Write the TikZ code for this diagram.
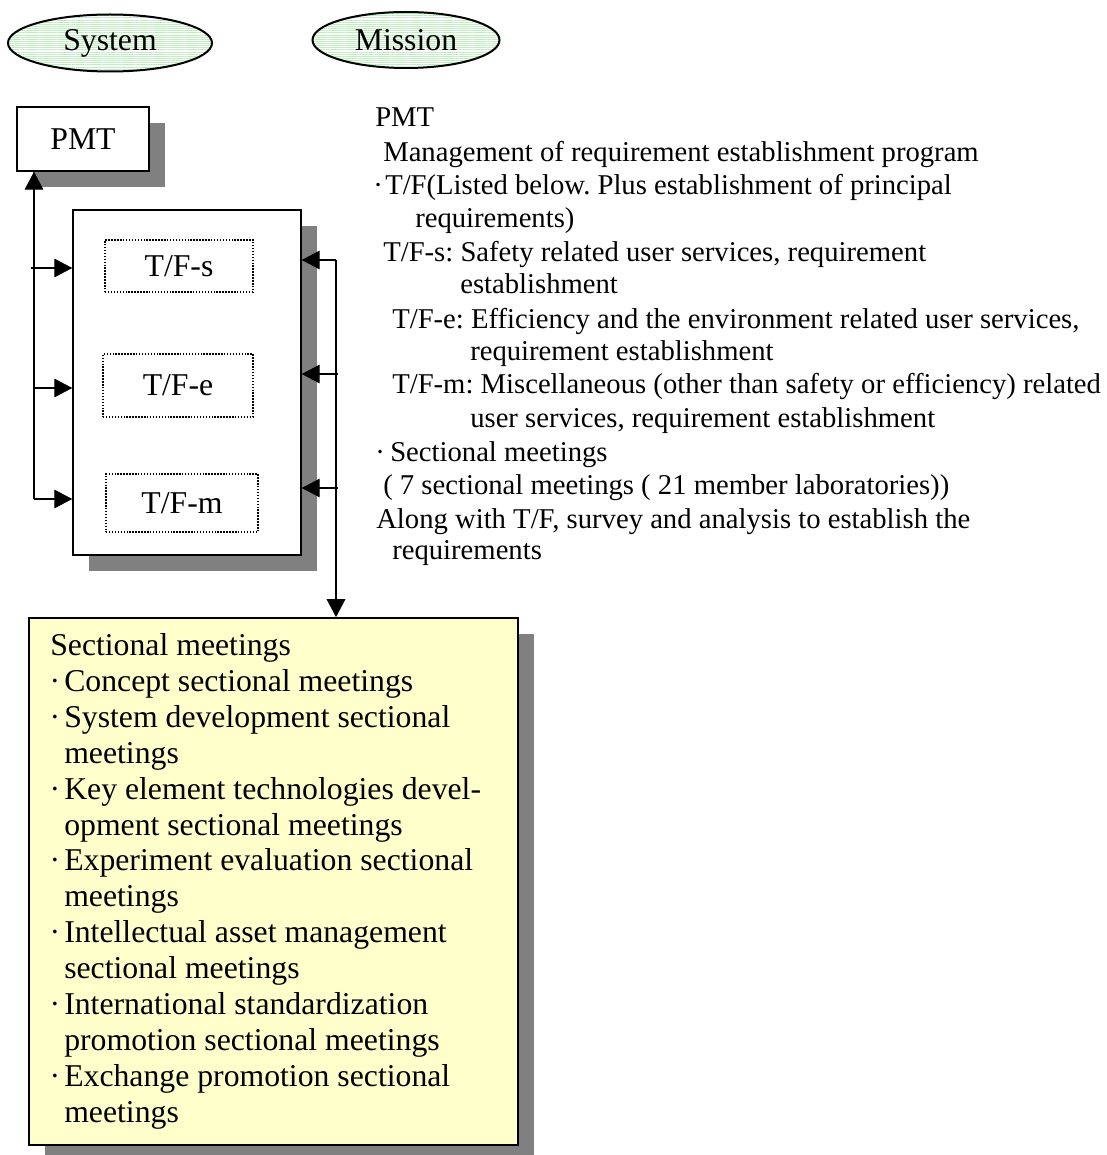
\documentclass[tikz,border=0pt]{standalone}
\usepackage{fontspec}
\setmainfont{Liberation Serif}
\usetikzlibrary{arrows.meta,shadows,shapes.geometric,patterns.meta}

\definecolor{shadowgray}{RGB}{128,128,128}
\definecolor{notepaper}{RGB}{255,255,204}
\definecolor{ovalgreen}{RGB}{188,238,188}

% bullet for the list lines
\newcommand\ybul{\makebox[10.5pt][l]{\hspace{-0.5pt}·}}

\begin{document}
\frenchspacing
\begin{tikzpicture}[x=0.75pt,y=-0.75pt,
  bigfont/.style={font=\fontsize{23.8pt}{26.9pt}\selectfont},
  notefont/.style={font=\fontsize{21.5pt}{24.75pt}\selectfont},
  oval/.style={ellipse, draw, line width=1.5pt, inner sep=0pt, bigfont,
    pattern={Lines[angle=0,distance=1.6pt,line width=0.7pt]}, pattern color=ovalgreen},
  shadowed/.style={drop shadow={shadow xshift=12pt, shadow yshift=-12pt,
    fill=shadowgray, opacity=1}},
  solidbox/.style={rectangle, draw, line width=1.1pt, fill=white, inner sep=0pt, bigfont},
  dotbox/.style={rectangle, draw, line width=1.1pt, dash pattern=on 1.1pt off 1.1pt,
    fill=white, inner sep=0pt, bigfont},
  note/.style={anchor=base west, inner sep=0pt, notefont},
  item/.style={anchor=base west, inner sep=0pt, bigfont},
  arr/.style={line width=0.8pt, -{Triangle[length=13.5pt,width=14pt]}}
]
\useasboundingbox (0,0) rectangle (1106,1155);
\clip (0,0) rectangle (1106,1155);

% header ovals
\node[oval, minimum width=153pt, minimum height=42.75pt] (sys) at (110,43) {System};
\node[oval, minimum width=140.25pt, minimum height=42pt] (mis) at (406,40) {Mission};

% organisation boxes
\node[solidbox, shadowed, minimum width=99pt, minimum height=48pt] (pmt) at (83,139) {PMT};
\node[solidbox, shadowed, minimum width=171pt, minimum height=258.75pt] (tf) at (187,382.5) {};
\node[dotbox, minimum width=111pt, minimum height=39pt] (tfs) at (179,266) {T/F-s};
\node[dotbox, minimum width=112.5pt, minimum height=47.25pt] (tfe) at (178,385.5) {T/F-e};
\node[dotbox, minimum width=114pt, minimum height=43.5pt] (tfm) at (182,503) {T/F-m};

% sectional meetings box
\node[rectangle, draw, line width=1.3pt, fill=notepaper, shadowed,
  minimum width=366.75pt, minimum height=395.25pt] (sec) at (273.5,881.5) {};

\node[item] (s1) at (50,655) {Sectional meetings};
\node[item] (s2) at (50,691) {\ybul Concept sectional meetings};
\node[item] (s3) at (50,727) {\ybul System development sectional};
\node[item] (s4) at (64,763) {meetings};
\node[item] (s5) at (50,799) {\ybul Key element technologies devel-};
\node[item] (s6) at (64,835) {opment sectional meetings};
\node[item] (s7) at (50,870) {\ybul Experiment evaluation sectional};
\node[item] (s8) at (64,906) {meetings};
\node[item] (s9) at (50,942) {\ybul Intellectual asset management};
\node[item] (s10) at (64,978) {sectional meetings};
\node[item] (s11) at (50,1014) {\ybul International standardization};
\node[item] (s12) at (64,1050) {promotion sectional meetings};
\node[item] (s13) at (50,1086) {\ybul Exchange promotion sectional};
\node[item] (s14) at (64,1122) {meetings};

% left feedback bus
\coordinate (lb) at (34,499);
\coordinate (l1) at (31,268);
\coordinate (l2) at (34,388);
\draw[arr] (lb) -- (lb |- pmt.south);
\draw[arr] (l1) -- (l1 -| tf.west);
\draw[arr] (l2) -- (l2 -| tf.west);
\draw[arr] (lb) -- (lb -| tf.west);

% right bus to the sectional meetings
\coordinate (r1) at (336,260);
\coordinate (r2) at (338,374);
\coordinate (r3) at (338,488);
\draw[arr] (r1) -- (r1 -| tf.east);
\draw[arr] (r2) -- (r2 -| tf.east);
\draw[arr] (r3) -- (r3 -| tf.east);
\draw[arr] (r1) -- (r1 |- sec.north);

% explanatory notes
\node[note] (n1) at (375,127) {PMT};
\node[note] (n2) at (383,162) {Management of requirement establishment program};
\node[note] (n3) at (373,195) {\makebox[9pt][l]{·}T/F(Listed below. Plus establishment of principal};
\node[note] (n4) at (415,228) {requirements)};
\node[note] (n5) at (383,262) {T/F-s: Safety related user services, requirement};
\node[note] (n6) at (460,294) {establishment};
\node[note] (n7) at (392,328) {T/F-e: Efficiency and the environment related user services,};
\node[note] (n8) at (470,360) {requirement establishment};
\node[note] (n9) at (392,393) {T/F-m: Miscellaneous (other than safety or efficiency) related};
\node[note] (n10) at (470,427) {user services, requirement establishment};
\node[note] (n11) at (375,461) {\makebox[11.25pt][l]{·}Sectional meetings};
\node[note] (n12) at (383,494) {( 7 sectional meetings ( 21 member laboratories))};
\node[note] (n13) at (376,528) {Along with T/F, survey and analysis to establish the};
\node[note] (n14) at (392,559) {requirements};
\end{tikzpicture}
\end{document}
